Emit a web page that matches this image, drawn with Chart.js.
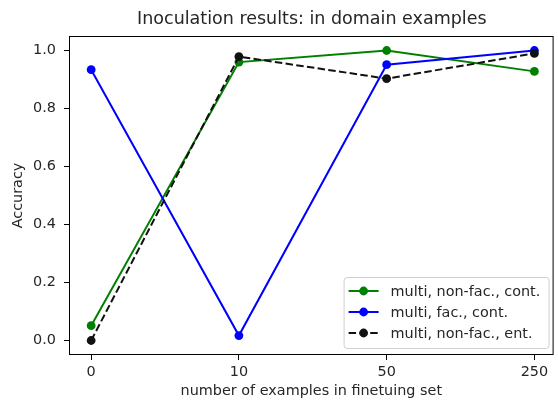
<!DOCTYPE html>
<html>
<head>
<meta charset="utf-8">
<script src="https://cdn.jsdelivr.net/npm/chart.js@4/dist/chart.umd.min.js"></script>
<style>
  html, body { margin: 0; padding: 0; background: #fff; }
  #wrap { width: 558px; height: 400px; }
</style>
</head>
<body>
<div id="wrap"><canvas id="acc"></canvas></div>
<script>
const CATEGORIES = ["0", "10", "50", "250"];
const Y_TICKS = [0, 0.2, 0.4, 0.6, 0.8, 1.0];
const LABELS = ["multi, non-fac., cont.", "multi, fac., cont.", "multi, non-fac., ent."];
const NONFAC_CONT = [0.051, 0.96, 1.0, 0.928];
const FAC_CONT = [0.934, 0.017, 0.951, 1.0];
const NONFAC_ENT = [0.0, 0.979, 0.903, 0.99];
const TITLE = "Inoculation results: in domain examples";

const FONT = "'DejaVu Sans', sans-serif";
const TEXT = "#262626";
const FS = 14.4;

function toPoints(values) {
  return values.map((v, i) => ({ x: i, y: v }));
}

function series(label, values, color, dash, order) {
  return {
    label: label,
    data: toPoints(values),
    borderColor: color,
    backgroundColor: color,
    borderWidth: 2,
    borderDash: dash,
    pointRadius: 4.4,
    pointBorderWidth: 0,
    pointBackgroundColor: color,
    tension: 0,
    order: order,
  };
}

// box round the plot, like matplotlib's spines, and the title centred over it
const frame = {
  id: "frame",
  afterDatasetsDraw(chart) {
    const { ctx, chartArea: a } = chart;
    ctx.save();
    ctx.strokeStyle = "#000";
    ctx.lineWidth = 1;
    ctx.strokeRect(a.left + 0.5, a.top + 0.5, a.right - a.left - 1, a.bottom - a.top - 1);
    ctx.fillStyle = TEXT;
    ctx.font = "17.5px " + FONT;
    ctx.textAlign = "center";
    ctx.textBaseline = "middle";
    ctx.fillText(TITLE, (a.left + a.right) / 2 + 0.5, 19);
    ctx.restore();
  },
};

// legend inside the plot, lower right
const boxLegend = {
  id: "boxLegend",
  afterDraw(chart) {
    const { ctx, chartArea: a } = chart;
    const w = 205, h = 71;
    const x = a.right - 5 - w, y = a.bottom - 7 - h;
    ctx.save();
    ctx.beginPath();
    ctx.roundRect(x + 0.5, y + 0.5, w, h, 3);
    ctx.fillStyle = "rgba(255,255,255,0.8)";
    ctx.fill();
    ctx.strokeStyle = "#d0d0d0";
    ctx.lineWidth = 1;
    ctx.stroke();
    ctx.font = FS + "px " + FONT;
    ctx.textBaseline = "middle";
    chart.data.datasets.forEach((ds, i) => {
      const ry = y + 14 + i * 21;
      ctx.strokeStyle = ds.borderColor;
      ctx.lineWidth = 2;
      ctx.setLineDash(ds.borderDash || []);
      ctx.beginPath();
      ctx.moveTo(x + 5, ry);
      ctx.lineTo(x + 35, ry);
      ctx.stroke();
      ctx.setLineDash([]);
      ctx.fillStyle = ds.borderColor;
      ctx.beginPath();
      ctx.arc(x + 20, ry, 4.4, 0, Math.PI * 2);
      ctx.fill();
      ctx.fillStyle = TEXT;
      ctx.fillText(ds.label, x + 47, ry + 1);
    });
    ctx.restore();
  },
};

new Chart(document.getElementById("acc"), {
  type: "line",
  data: {
    datasets: [
      series(LABELS[0], NONFAC_CONT, "#008000", [], 3),
      series(LABELS[1], FAC_CONT, "#0000ff", [], 2),
      series(LABELS[2], NONFAC_ENT, "#111111", [7.5, 3.3], 1),
    ],
  },
  options: {
    responsive: true,
    maintainAspectRatio: false,
    animation: false,
    events: [],
    layout: { padding: { left: 0, right: 1, top: 36, bottom: 0 } },
    plugins: {
      legend: { display: false },
      tooltip: { enabled: false },
      title: { display: false },
    },
    scales: {
      x: {
        type: "linear",
        min: -0.15,
        max: 3.13,
        afterBuildTicks: (s) => { s.ticks = CATEGORIES.map((c, i) => ({ value: i })); },
        afterFit: (s) => { s.height = 45; },
        ticks: {
          color: TEXT,
          font: { family: FONT, size: FS },
          padding: 4,
          maxRotation: 0,
          callback: (v) => CATEGORIES[v],
        },
        grid: { drawOnChartArea: false, drawTicks: true, tickLength: 5, color: "#000" },
        border: { display: false },
        title: {
          display: true,
          text: "number of examples in finetuing set",
          color: TEXT,
          font: { family: FONT, size: FS },
          padding: { top: 0, bottom: 0 },
        },
      },
      y: {
        min: -0.05,
        max: 1.05,
        afterBuildTicks: (s) => { s.ticks = Y_TICKS.map((v) => ({ value: v })); },
        afterFit: (s) => { s.width = 69; },
        ticks: {
          color: TEXT,
          font: { family: FONT, size: FS },
          padding: 8,
          callback: (v) => v.toFixed(1),
        },
        grid: { drawOnChartArea: false, drawTicks: true, tickLength: 5, color: "#000" },
        border: { display: false },
        title: {
          display: true,
          text: "Accuracy",
          color: TEXT,
          font: { family: FONT, size: FS },
          padding: { top: 10, bottom: 0 },
        },
      },
    },
  },
  plugins: [frame, boxLegend],
});
</script>
</body>
</html>
